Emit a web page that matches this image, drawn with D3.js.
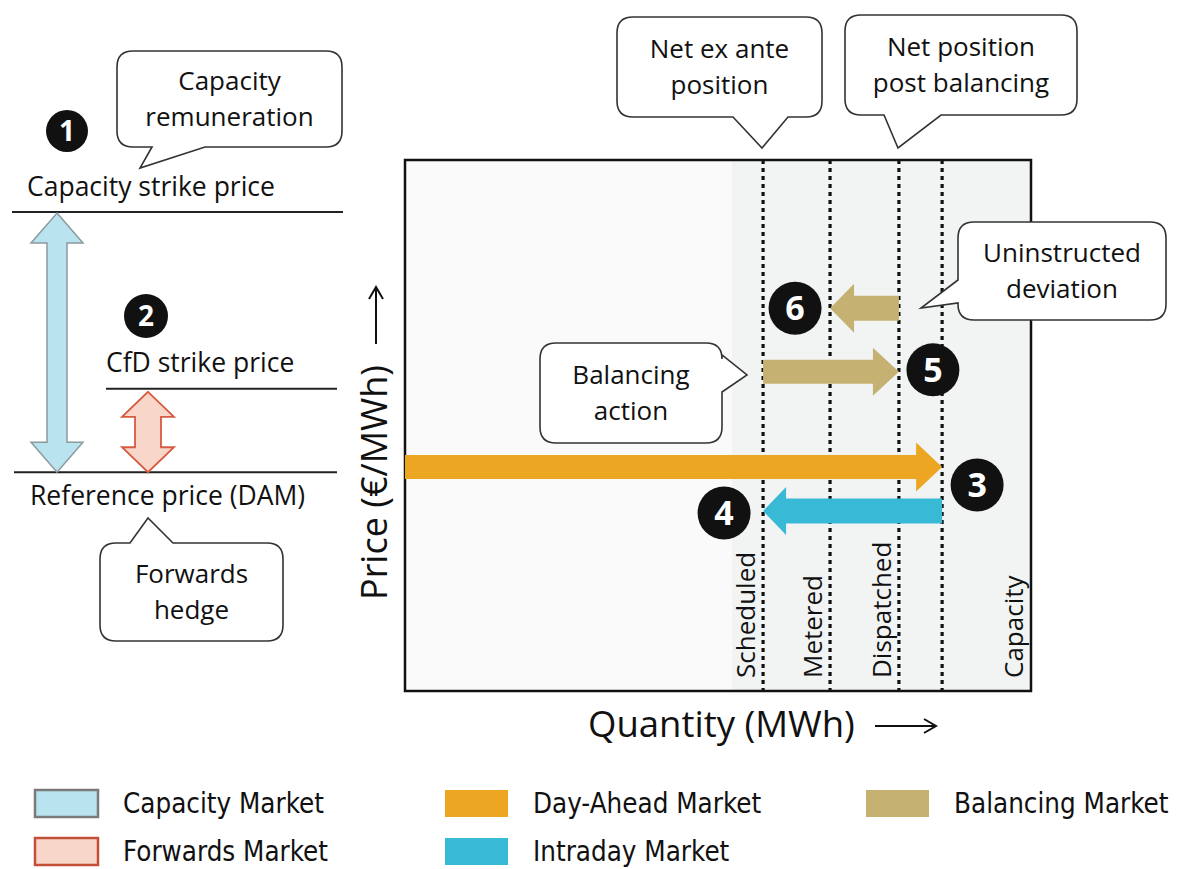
<!DOCTYPE html>
<html>
<head>
<meta charset="utf-8">
<script src="https://cdn.jsdelivr.net/npm/d3@7"></script>
<style>
  body { margin: 0; background: #fff; }
  text { font-family: "Open Sans", "Noto Sans", sans-serif; fill: #111; }
  .legend text { font-family: "Liberation Sans Narrow", "DejaVu Sans Condensed", "Open Sans", sans-serif; }
</style>
</head>
<body>
<div id="vis-container"></div>
<script>
// quantity marks on the x axis (share of capacity, %)
var markNames = ["Scheduled", "Metered", "Dispatched", "Capacity"];
var markQty = [57.2, 67.9, 78.9, 100];
var dottedQty = [57.2, 67.9, 78.9, 85.8];

// market flows (arrows inside the plot)
var flowMarket = ["Day-Ahead Market", "Intraday Market", "Balancing Market", "Balancing Market"];
var flowFrom = [0, 85.8, 57.2, 78.9];
var flowTo = [85.8, 57.2, 78.9, 67.9];
var flowPrice = [42.2, 33.9, 60.1, 72.1];
var flowStep = ["3", "4", "5", "6"];

// price levels on the left
var levelNames = ["Capacity strike price", "CfD strike price", "Reference price (DAM)"];
var levelPrice = [90.2, 56.9, 41.2];

// legend
var legendNames = ["Capacity Market", "Forwards Market", "Day-Ahead Market", "Intraday Market", "Balancing Market"];
var legendFill = ["#b9e3ef", "#f8d7ca", "#eca621", "#38b9d5", "#c5b273"];
var legendStroke = ["#7a7a7a", "#c24f36", "none", "none", "none"];

var colors = {
  "Capacity Market": "#b9e3ef",
  "Forwards Market": "#f8d7ca",
  "Day-Ahead Market": "#eca621",
  "Intraday Market": "#38b9d5",
  "Balancing Market": "#c5b273"
};

var width = 1178, height = 869;

var svg = d3.select("#vis-container")
  .append("svg")
  .attr("width", width)
  .attr("height", height);

var x = d3.scaleLinear().domain([0, 100]).range([405, 1031]);
var y = d3.scaleLinear().domain([0, 100]).range([691, 160]);

// helpers
function arrowH(x0, x1, yc, sh, hh, hl) {
  var dir = x1 > x0 ? 1 : -1;
  var hb = x1 - dir * hl;
  return "M" + x0 + "," + (yc - sh) + "L" + hb + "," + (yc - sh) + "L" + hb + "," + (yc - hh) +
    "L" + x1 + "," + yc + "L" + hb + "," + (yc + hh) + "L" + hb + "," + (yc + sh) +
    "L" + x0 + "," + (yc + sh) + "Z";
}
function dblV(xc, yt, yb, sh, hh, hl) {
  return "M" + xc + "," + yt + "L" + (xc + hh) + "," + (yt + hl) + "L" + (xc + sh) + "," + (yt + hl) +
    "L" + (xc + sh) + "," + (yb - hl) + "L" + (xc + hh) + "," + (yb - hl) + "L" + xc + "," + yb +
    "L" + (xc - hh) + "," + (yb - hl) + "L" + (xc - sh) + "," + (yb - hl) +
    "L" + (xc - sh) + "," + (yt + hl) + "L" + (xc - hh) + "," + (yt + hl) + "Z";
}
function callout(b) {
  var r = 16, x0 = b.x0, y0 = b.y0, x1 = b.x1, y1 = b.y1;
  var p = "M" + (x0 + r) + "," + y0;
  if (b.side == "top") p += "H" + b.t0 + "L" + b.tx + "," + b.ty + "L" + b.t1 + "," + y0;
  p += "H" + (x1 - r) + "Q" + x1 + "," + y0 + " " + x1 + "," + (y0 + r);
  if (b.side == "right") p += "V" + b.t0 + "L" + b.tx + "," + b.ty + "L" + x1 + "," + b.t1;
  p += "V" + (y1 - r) + "Q" + x1 + "," + y1 + " " + (x1 - r) + "," + y1;
  if (b.side == "bottom") p += "H" + b.t1 + "L" + b.tx + "," + b.ty + "L" + b.t0 + "," + y1;
  p += "H" + (x0 + r) + "Q" + x0 + "," + y1 + " " + x0 + "," + (y1 - r);
  if (b.side == "left") p += "V" + b.t1 + "L" + b.tx + "," + b.ty + "L" + x0 + "," + b.t0;
  p += "V" + (y0 + r) + "Q" + x0 + "," + y0 + " " + (x0 + r) + "," + y0 + "Z";
  return p;
}
function badge(cx, cy, r, label, fs) {
  svg.append("circle").attr("cx", cx).attr("cy", cy).attr("r", r).style("fill", "#111");
  svg.append("text").attr("x", cx).attr("y", cy + fs * 0.36)
    .attr("text-anchor", "middle")
    .style("font-size", fs + "px").style("font-weight", "bold").style("fill", "#fff")
    .text(label);
}

// plot area
svg.append("rect").attr("x", x(0)).attr("y", y(100)).attr("width", x(100) - x(0)).attr("height", y(0) - y(100))
  .style("fill", "#fafafa");
svg.append("rect").attr("x", 732).attr("y", y(100)).attr("width", x(100) - 732).attr("height", y(0) - y(100))
  .style("fill", "#f2f4f4");

svg.selectAll(".dotted")
  .data(dottedQty)
  .enter()
  .append("line")
  .attr("class", "dotted")
  .attr("x1", function(d) { return x(d); })
  .attr("x2", function(d) { return x(d); })
  .attr("y1", y(100)).attr("y2", y(0))
  .style("stroke", "#111").style("stroke-width", 3.2).style("stroke-dasharray", "4,4");

svg.append("rect").attr("x", x(0)).attr("y", y(100)).attr("width", x(100) - x(0)).attr("height", y(0) - y(100))
  .style("fill", "none").style("stroke", "#111").style("stroke-width", 2.5);

// vertical mark labels
svg.selectAll(".marklabel")
  .data(markNames)
  .enter()
  .append("text")
  .attr("class", "marklabel")
  .attr("transform", function(d, i) { return "translate(" + (x(markQty[i]) - 8) + ",678) rotate(-90)"; })
  .style("font-size", "26px")
  .text(function(d) { return d; });

// flows
var heads = [[12, 24.5, 26], [12.5, 24, 23], [12, 24, 26], [12.5, 24.5, 24]];
svg.selectAll(".flow")
  .data(flowMarket)
  .enter()
  .append("path")
  .attr("class", "flow")
  .attr("d", function(d, i) {
    return arrowH(x(flowFrom[i]), x(flowTo[i]), y(flowPrice[i]), heads[i][0], heads[i][1], heads[i][2]);
  })
  .style("fill", function(d) { return colors[d]; });

var badgeOff = [[35, 18], [-39, 2], [34, -2], [-35, 0]];
flowStep.forEach(function(s, i) {
  badge(x(flowTo[i]) + badgeOff[i][0], y(flowPrice[i]) + badgeOff[i][1], 26.5, s, 34);
});

// left panel: price levels
var levelX0 = [12, 106, 14], levelX1 = [343, 337, 337];
svg.selectAll(".level")
  .data(levelNames)
  .enter()
  .append("line")
  .attr("x1", function(d, i) { return levelX0[i]; })
  .attr("x2", function(d, i) { return levelX1[i]; })
  .attr("y1", function(d, i) { return y(levelPrice[i]); })
  .attr("y2", function(d, i) { return y(levelPrice[i]); })
  .style("stroke", "#222").style("stroke-width", 2);

var levelTx = [27, 106, 30], levelTy = [-16, -17, 33];
svg.selectAll(".leveltext")
  .data(levelNames)
  .enter()
  .append("text")
  .attr("x", function(d, i) { return levelTx[i]; })
  .attr("y", function(d, i) { return y(levelPrice[i]) + levelTy[i]; })
  .style("font-size", "26.5px")
  .text(function(d) { return d; });

svg.append("path").attr("d", dblV(57, y(levelPrice[0]) + 1, y(levelPrice[2]), 10, 26, 30))
  .style("fill", colors["Capacity Market"]).style("stroke", "#8a9a9e").style("stroke-width", 1.5);
svg.append("path").attr("d", dblV(148, y(levelPrice[1]) + 3, y(levelPrice[2]), 13, 26, 25))
  .style("fill", colors["Forwards Market"]).style("stroke", "#d65a40").style("stroke-width", 1.8);

badge(67, 131, 21, "1", 28);
badge(146, 316, 22, "2", 28);

// callouts
var callouts = [
  { lines: ["Capacity", "remuneration"], x0: 117, y0: 51, x1: 342, y1: 147, side: "bottom", t0: 152, t1: 205, tx: 140, ty: 168 },
  { lines: ["Forwards", "hedge"], x0: 100, y0: 543, x1: 283, y1: 641, side: "top", t0: 130, t1: 173, tx: 148, ty: 518 },
  { lines: ["Net ex ante", "position"], x0: 617, y0: 17, x1: 822, y1: 117, side: "bottom", t0: 733, t1: 788, tx: 762, ty: 148 },
  { lines: ["Net position", "post balancing"], x0: 845, y0: 15, x1: 1077, y1: 115, side: "bottom", t0: 884, t1: 941, tx: 898, ty: 148 },
  { lines: ["Uninstructed", "deviation"], x0: 958, y0: 222, x1: 1166, y1: 320, side: "left", t0: 280, t1: 303, tx: 921, ty: 308 },
  { lines: ["Balancing", "action"], x0: 540, y0: 343, x1: 722, y1: 443, side: "right", t0: 355, t1: 392, tx: 747, ty: 375 }
];
callouts.forEach(function(c) {
  svg.append("path").attr("d", callout(c))
    .style("fill", "#fff").style("stroke", "#333").style("stroke-width", 1.6);
  var cx = (c.x0 + c.x1) / 2, cy = (c.y0 + c.y1) / 2;
  c.lines.forEach(function(l, k) {
    svg.append("text").attr("x", cx).attr("y", cy - 9 + k * 36)
      .attr("text-anchor", "middle")
      .style("font-size", "26px")
      .text(l);
  });
});

// axis titles
svg.append("text").attr("x", 588).attr("y", 737)
  .style("font-size", "36.5px").text("Quantity (MWh)");
svg.append("line").attr("x1", 875).attr("x2", 935).attr("y1", 726).attr("y2", 726)
  .style("stroke", "#111").style("stroke-width", 2);
svg.append("path").attr("d", "M924,719L936,726L924,733").style("fill", "none").style("stroke", "#111").style("stroke-width", 2);

svg.append("text").attr("transform", "translate(387,600) rotate(-90)")
  .style("font-size", "36px").text("Price (€/MWh)");
svg.append("line").attr("x1", 376).attr("x2", 376).attr("y1", 344).attr("y2", 288)
  .style("stroke", "#111").style("stroke-width", 2);
svg.append("path").attr("d", "M369,299L376,287L383,299").style("fill", "none").style("stroke", "#111").style("stroke-width", 2);

// legend
var legX = [35, 35, 445, 445, 866], legY = [790, 838, 790, 838, 790];
var legend = svg.append("g").attr("class", "legend");
legend.selectAll("rect")
  .data(legendNames)
  .enter()
  .append("rect")
  .attr("x", function(d, i) { return legX[i]; })
  .attr("y", function(d, i) { return legY[i]; })
  .attr("width", 63).attr("height", 27)
  .style("fill", function(d, i) { return legendFill[i]; })
  .style("stroke", function(d, i) { return legendStroke[i]; })
  .style("stroke-width", 2.5);
legend.selectAll("text")
  .data(legendNames)
  .enter()
  .append("text")
  .attr("x", function(d, i) { return legX[i] + 88; })
  .attr("y", function(d, i) { return legY[i] + 23; })
  .style("font-size", "27.5px")
  .text(function(d) { return d; });
</script>
</body>
</html>
